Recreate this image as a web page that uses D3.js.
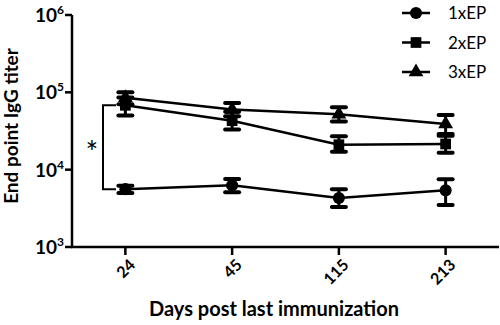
<!DOCTYPE html>
<html>
<head>
<meta charset="utf-8">
<script src="https://d3js.org/d3.v7.min.js"></script>
<style>
  body { margin: 0; background: #fff; }
  text { font-family: Lato, "Open Sans", sans-serif; }
</style>
</head>
<body>
<div id="chart"></div>
<script>
// Data
const days = ["24", "45", "115", "213"];
const seriesNames = ["1xEP", "2xEP", "3xEP"];
const mean1x = [5600, 6300, 4300, 5400];
const low1x = [5000, 5100, 3300, 3500];
const high1x = [6200, 7600, 5600, 7500];
const mean2x = [68000, 43000, 21000, 21500];
const low2x = [50000, 33000, 17000, 16500];
const high2x = [86000, 56000, 27000, 27500];
const mean3x = [85000, 60000, 52000, 39000];
const low3x = [70000, 49000, 42000, 29000];
const high3x = [100000, 73000, 64000, 51000];
const yTickPowers = [3, 4, 5, 6];

const W = 500, H = 325;
const plotLeft = 72, plotRight = 499, plotTop = 15, plotBottom = 247;

const svg = d3.select("#chart").append("svg")
  .attr("width", W).attr("height", H);

const x = d3.scalePoint().domain(days).range([plotLeft, plotRight]).padding(0.5);
const y = d3.scaleLog().domain([1e3, 1e6]).range([plotBottom, plotTop]);

const series = [
  { name: seriesNames[0], mean: mean1x, low: low1x, high: high1x, shape: d3.symbolCircle, size: 115 },
  { name: seriesNames[1], mean: mean2x, low: low2x, high: high2x, shape: d3.symbolSquare, size: 115 },
  { name: seriesNames[2], mean: mean3x, low: low3x, high: high3x, shape: d3.symbolTriangle, size: 95 }
];

// axes
svg.append("line").attr("x1", plotLeft).attr("x2", plotLeft).attr("y1", plotTop).attr("y2", plotBottom)
  .attr("stroke", "#000").attr("stroke-width", 2.5);
svg.append("line").attr("x1", plotLeft - 1).attr("x2", plotRight).attr("y1", plotBottom).attr("y2", plotBottom)
  .attr("stroke", "#000").attr("stroke-width", 2.5);

// y ticks
yTickPowers.forEach(p => {
  const yy = y(Math.pow(10, p));
  svg.append("line").attr("x1", plotLeft - 7).attr("x2", plotLeft).attr("y1", yy).attr("y2", yy)
    .attr("stroke", "#000").attr("stroke-width", 2.5);
  const t = svg.append("text").attr("x", plotLeft - 8).attr("y", yy + 7)
    .attr("text-anchor", "end").style("font-size", "19px").style("font-weight", "bold");
  t.append("tspan").text("10");
  t.append("tspan").attr("dy", -8).style("font-size", "12px").text(p);
});

// x ticks
days.forEach(d => {
  const xx = x(d);
  svg.append("line").attr("x1", xx).attr("x2", xx).attr("y1", plotBottom).attr("y2", plotBottom + 8)
    .attr("stroke", "#000").attr("stroke-width", 2.5);
  svg.append("text")
    .attr("transform", `translate(${xx + 7},${plotBottom + 15}) rotate(-45)`)
    .attr("text-anchor", "end").attr("dy", "0.35em")
    .style("font-size", "16px").style("font-weight", "bold")
    .text(d);
});

// axis titles
svg.append("text").attr("x", 274).attr("y", 316).attr("text-anchor", "middle")
  .style("font-size", "20px").style("font-weight", "bold").text("Days post last immunization");
svg.append("text").attr("transform", "translate(18,126) rotate(-90)")
  .attr("text-anchor", "middle").style("font-size", "19px").style("font-weight", "bold")
  .text("End point IgG titer");

// lines, error bars, markers
const line = d3.line().x((d, i) => x(days[i])).y(d => y(d));
series.forEach(s => {
  svg.append("path").attr("d", line(s.mean)).attr("fill", "none")
    .attr("stroke", "#000").attr("stroke-width", 2.5);
  days.forEach((d, i) => {
    const xx = x(d);
    svg.append("line").attr("x1", xx).attr("x2", xx)
      .attr("y1", y(s.low[i])).attr("y2", y(s.high[i]))
      .attr("stroke", "#000").attr("stroke-width", 3);
    [s.low[i], s.high[i]].forEach(v => {
      svg.append("line").attr("x1", xx - 7).attr("x2", xx + 7)
        .attr("y1", y(v)).attr("y2", y(v))
        .attr("stroke", "#000").attr("stroke-width", 4).attr("stroke-linecap", "round");
    });
    svg.append("path").attr("d", d3.symbol().type(s.shape).size(s.size)())
      .attr("transform", `translate(${xx},${y(s.mean[i])})`).attr("fill", "#000");
  });
});

// significance bracket between 2xEP and 1xEP at day 24
const bx = 103, bEnd = 116;
const bTop = y(mean2x[0]), bBot = y(mean1x[0]);
svg.append("path")
  .attr("d", `M${bEnd},${bTop}H${bx}V${bBot}H${bEnd}`)
  .attr("fill", "none").attr("stroke", "#000").attr("stroke-width", 2);
svg.append("text").attr("x", 92).attr("y", (bTop + bBot) / 2 + 16)
  .attr("text-anchor", "middle").style("font-size", "30px").text("*");

// legend
series.forEach((s, i) => {
  const ly = 13 + i * 29.5;
  svg.append("line").attr("x1", 402).attr("x2", 430).attr("y1", ly).attr("y2", ly)
    .attr("stroke", "#000").attr("stroke-width", 2.5);
  svg.append("path").attr("d", d3.symbol().type(s.shape).size(s.size)())
    .attr("transform", `translate(416,${ly})`).attr("fill", "#000");
  svg.append("text").attr("x", 448).attr("y", ly + 6)
    .style("font-size", "17px").text(s.name);
});
</script>
</body>
</html>
